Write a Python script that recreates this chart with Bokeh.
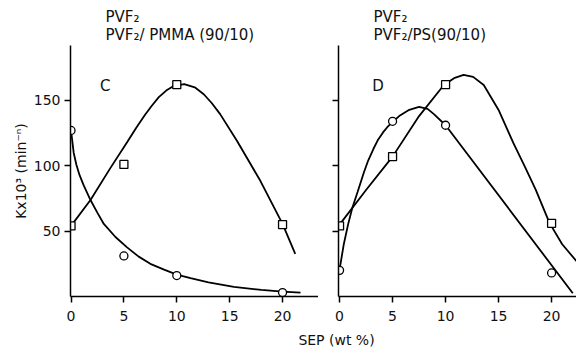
from bokeh.plotting import figure
from bokeh.models import FixedTicker, Label, Range1d
from bokeh.layouts import row, column
from bokeh.embed import file_html
from bokeh.resources import INLINE

FONT = "DejaVu Sans"

# ---------------- data ----------------
x_ticks = [0, 5, 10, 15, 20]
y_ticks = [50, 100, 150]

# Panel C : PVF2 / PMMA (90/10)
c_sep = [0, 5, 10, 20]
c_circles = [127, 31, 16, 3]
c_squares = [54, 101, 162, 55]
c_circ_curve_x = [0, 0.25, 0.5, 0.8, 1.2, 1.84, 2.5, 3.1, 4.2, 5.3, 6.4, 7.5, 8.8, 10, 11.3, 13, 15.4, 18, 20, 21.7]
c_circ_curve_y = [127, 110, 101, 93, 85, 73.8, 64, 55.5, 45.5, 37.6, 30.5, 25, 20.5, 16.8, 14, 10.8, 7.3, 5, 3.8, 3.0]
c_sq_curve_x = [0, 1.84, 3.7, 5.3, 6.2, 7.0, 7.6, 8.3, 9.0, 9.7, 10.7, 11.7, 12.55, 13.3, 14.1, 15.7, 17.9, 20, 21.2]
c_sq_curve_y = [54, 73.8, 98, 118, 129.5, 139, 145.5, 152.5, 157.5, 161, 162.5, 160, 154.7, 148, 139.5, 119, 88.5, 55.5, 32.6]

# Panel D : PVF2 / PS (90/10)
d_sep = [0, 5, 10, 20]
d_circles = [20, 134, 131, 18]
d_squares = [54, 107, 162, 56]
d_circ_curve_x = [0, 0.4, 0.8, 1.2, 1.7, 2.3, 2.7, 3.2, 3.6, 4.1, 4.5, 5, 5.7, 6.5, 7.5, 8.3, 8.9, 10, 22]
d_circ_curve_y = [20.6, 40, 55, 67.7, 80, 95, 104, 113, 119.5, 125.5, 129.5, 133.5, 138.5, 142.5, 145, 143.5, 139.5, 131, 2.5]
d_sq_curve_x = [0, 2.5, 5, 7.5, 9.84, 10.8, 11.7, 12.6, 13.6, 15.0, 16.4, 17.5, 18.5, 19.8, 21, 22.35]
d_sq_curve_y = [55, 81.5, 107, 138, 161.8, 167, 169.5, 168, 161.8, 142.7, 117.3, 99, 81.7, 56.3, 40, 27]

title_line1 = "PVF\u2082"
c_title_line2 = "PVF\u2082/ PMMA (90/10)"
d_title_line2 = "PVF\u2082/PS(90/10)"
y_label = "Kx10\u00b3 (min\u207b\u207f)"
x_label = "SEP (wt %)"


def style(p, ylabels=True):
    p.xgrid.visible = False
    p.ygrid.visible = False
    p.outline_line_color = None
    p.background_fill_color = "white"
    p.border_fill_color = "white"
    for ax in p.axis:
        ax.axis_line_color = "black"
        ax.axis_line_width = 1.5
        ax.major_tick_line_color = "black"
        ax.major_tick_line_width = 1.5
        ax.major_tick_out = 6
        ax.major_tick_in = 0
        ax.minor_tick_out = 0
        ax.minor_tick_in = 0
        ax.major_label_text_font = FONT
        ax.major_label_text_font_size = "14px"
        ax.major_label_text_color = "#111111"
    p.xaxis.ticker = FixedTicker(ticks=x_ticks)
    p.yaxis.ticker = FixedTicker(ticks=y_ticks)
    p.xaxis.major_label_standoff = 8
    if ylabels:
        p.yaxis.major_label_standoff = 4
    else:
        p.yaxis.major_label_overrides = {t: "" for t in y_ticks}
        p.yaxis.major_label_standoff = 0


def set_title(p, line2):
    p.title.text = title_line1 + "\n" + line2
    p.title.text_font = FONT
    p.title.text_font_size = "15px"
    p.title.text_font_style = "normal"
    p.title.text_color = "#111111"
    p.title.align = "left"
    p.title.offset = 35
    p.title.standoff = 2
    p.title.text_line_height = 1.05


def draw(p, sep, circ, sq, cx, cy, sx, sy):
    p.line(cx, cy, line_color="black", line_width=1.8)
    p.line(sx, sy, line_color="black", line_width=1.8)
    p.scatter(sep, circ, marker="circle", size=8, fill_color="white",
              line_color="black", line_width=1.3)
    p.scatter(sep, sq, marker="square", size=8, fill_color="white",
              line_color="black", line_width=1.3)


def text(p, x, y, t, size="15px"):
    p.add_layout(Label(x=x, y=y, text=t, text_font=FONT, text_font_size=size,
                       text_color="#111111", text_baseline="alphabetic", text_align="left"))


p1 = figure(width=318, height=330, x_range=Range1d(-0.05, 23.4), y_range=Range1d(0, 192),
            min_border_left=70, min_border_right=0, min_border_top=45, min_border_bottom=34,
            toolbar_location=None, output_backend="svg")
style(p1, True)
set_title(p1, c_title_line2)
p1.yaxis.axis_label = y_label
p1.yaxis.axis_label_text_font = FONT
p1.yaxis.axis_label_text_font_size = "14px"
p1.yaxis.axis_label_text_font_style = "normal"
p1.yaxis.axis_label_text_color = "#111111"
p1.yaxis.axis_label_standoff = 2
draw(p1, c_sep, c_circles, c_squares, c_circ_curve_x, c_circ_curve_y, c_sq_curve_x, c_sq_curve_y)
text(p1, 2.73, 160.7, "C")

p2 = figure(width=258, height=330, x_range=Range1d(-0.1, 22.35), y_range=Range1d(0, 192),
            min_border_left=20, min_border_right=0, min_border_top=45, min_border_bottom=34,
            toolbar_location=None, output_backend="svg")
style(p2, False)
set_title(p2, d_title_line2)
draw(p2, d_sep, d_circles, d_squares, d_circ_curve_x, d_circ_curve_y, d_sq_curve_x, d_sq_curve_y)
text(p2, 3.08, 161.4, "D")

p3 = figure(width=576, height=17, x_range=Range1d(0, 576), y_range=Range1d(0, 17),
            x_axis_type=None, y_axis_type=None, min_border=0,
            toolbar_location=None, output_backend="svg")
p3.xgrid.visible = False
p3.ygrid.visible = False
p3.outline_line_color = None
p3.add_layout(Label(x=336, y=7.4, text=x_label, text_font=FONT, text_font_size="14px",
                    text_color="#111111", text_align="center", text_baseline="middle"))

layout = column(row(p1, p2), p3)
open("out.html", "w").write(file_html(layout, INLINE))
